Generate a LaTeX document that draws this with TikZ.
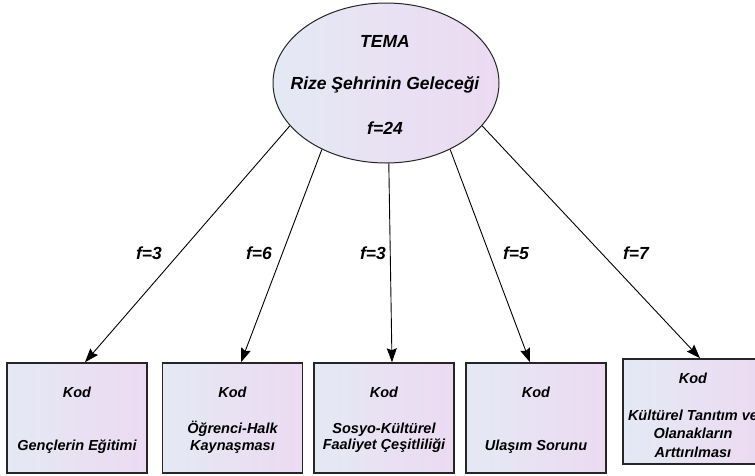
\documentclass[tikz,border=0pt]{standalone}
\usepackage{fontspec}
\setmainfont{Liberation Sans}
\usetikzlibrary{shapes.geometric,arrows.meta}
\definecolor{shadeL}{RGB}{228,233,244}
\definecolor{shadeR}{RGB}{236,218,242}
\begin{document}
\begin{tikzpicture}[x=1pt,y=-1pt,
  bigtxt/.style={font=\fontsize{17.5}{20}\selectfont\bfseries\itshape, inner sep=0pt},
  boxtxt/.style={font=\fontsize{14.5}{16.5}\selectfont\bfseries\itshape, inner sep=0pt, align=center},
  kodbox/.style={draw=black!85, line width=1.5pt, minimum width=140pt, minimum height=110pt,
     left color=shadeL, right color=shadeR, inner sep=0pt},
  arr/.style={line width=0.9pt, -{Stealth[length=14pt,width=10pt,inset=2pt]}}]
\clip (0,0) rectangle (755,475);
\fill[white] (0,0) rectangle (755,475);
% theme ellipse
\node[ellipse, draw=black!85, line width=1pt, minimum width=226pt, minimum height=160pt,
      left color=shadeL, right color=shadeR, inner sep=0pt] (e) at (386,83) {};
\node[bigtxt] (ea) at (385,41) {TEMA};
\node[bigtxt] (eb) at (385,85) {Rize Şehrinin Geleceği};
\node[bigtxt] (ec) at (385,128) {f=24};
% code boxes
\node[kodbox] (b1) at (77,418) {};
\node[kodbox] (b2) at (232.5,418) {};
\node[kodbox] (b3) at (384,418) {};
\node[kodbox] (b4) at (536,418) {};
\node[kodbox, minimum height=105pt] (b5) at (693,411.5) {};
% box texts
\node[boxtxt] (k1) at (77,392) {Kod};
\node[boxtxt] (g1) at (77,447) {Gençlerin Eğitimi};
\node[boxtxt] (k2) at (232.5,392) {Kod};
\node[boxtxt] (g2) at (232.5,437.5) {Öğrenci-Halk\\Kaynaşması};
\node[boxtxt] (k3) at (384,392) {Kod};
\node[boxtxt] (g3) at (384,437.5) {Sosyo-Kültürel\\Faaliyet Çeşitliliği};
\node[boxtxt] (k4) at (536,392) {Kod};
\node[boxtxt] (g4) at (536,447) {Ulaşım Sorunu};
\node[boxtxt] (k5) at (693,378) {Kod};
\node[boxtxt, font=\fontsize{14.5}{18.5}\selectfont\bfseries\itshape] (g5) at (693,433.5) {Kültürel Tanıtım ve\\Olanakların\\Arttırılması};
% connectors
\draw[arr] (e.204.7) -- ([xshift=8pt]b1.north);
\draw[arr] (e.226.3) -- ([xshift=8.5pt]b2.north);
\draw[arr] (e.272.9) -- ([xshift=8pt]b3.north);
\draw[arr] (e.314.6) -- ([xshift=-6pt]b4.north);
\draw[arr] (e.336.6) -- ([xshift=7pt]b5.north);
% frequency labels
\node[bigtxt] (f1) at (149,253) {f=3};
\node[bigtxt] (f2) at (259,253) {f=6};
\node[bigtxt] (f3) at (373,253) {f=3};
\node[bigtxt] (f4) at (516,253) {f=5};
\node[bigtxt] (f5) at (636,253) {f=7};
\end{tikzpicture}
\end{document}
